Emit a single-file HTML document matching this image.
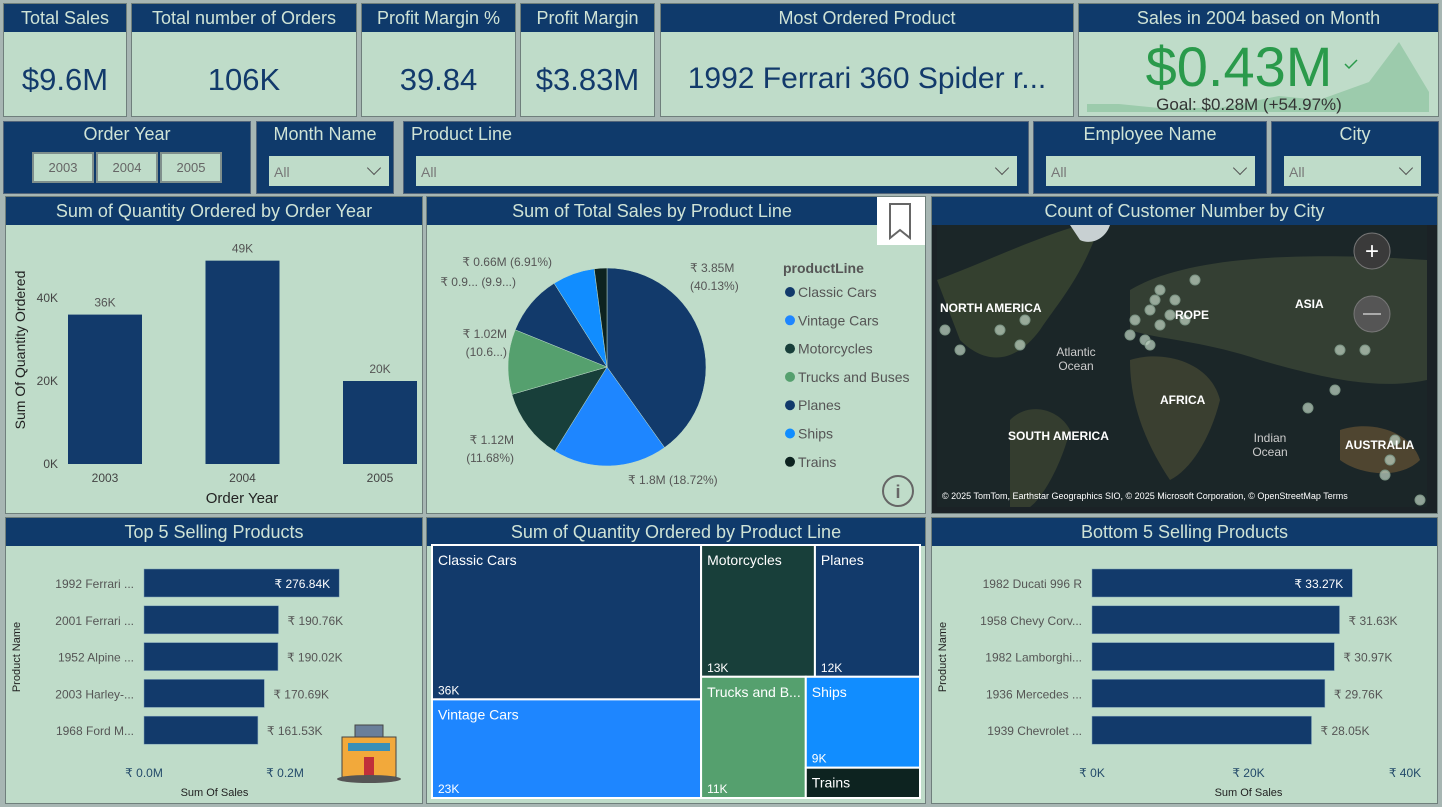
<!DOCTYPE html>
<html><head><meta charset="utf-8">
<style>
*{box-sizing:border-box;margin:0;padding:0}
body{width:1442px;height:807px;background:#a7b6b3;position:relative;overflow:hidden;font-family:"Liberation Sans",sans-serif}
.p{position:absolute;background:#bfdcc9;border:1px solid #6f7f7c}
.h{position:absolute;left:0;right:0;top:0;background:#0f3a6b;color:#cfe3d6;text-align:center;font-size:18px;line-height:28px;white-space:nowrap;overflow:hidden}
.v{position:absolute;left:0;right:0;text-align:center;color:#123a6b;font-size:31px}
.sl{position:absolute;background:#0f3a6b;border:1px solid #53657a}
.st{color:#cfe3d6;font-size:18px;position:absolute;top:2px}
.dd{position:absolute;background:#bfdcc9;color:#777;font-size:14px;padding:8px 5px;height:30px}
.dd::after{content:"";position:absolute;right:10px;top:7px;width:9px;height:9px;border-right:1px solid #555;border-bottom:1px solid #555;transform:rotate(45deg)}
.yb{position:absolute;top:152px;width:62px;height:31px;background:#bfdcc9;border:2px solid #7f8f8c;color:#666;font-size:13px;text-align:center;line-height:27px}
svg text{font-family:"Liberation Sans",sans-serif}
</style></head><body>
<div class="p" style="left:3px;top:3px;width:124px;height:114px"><div class="h">Total Sales</div><div class="v" style="top:58px">$9.6M</div></div>
<div class="p" style="left:131px;top:3px;width:226px;height:114px"><div class="h">Total number of Orders</div><div class="v" style="top:58px">106K</div></div>
<div class="p" style="left:361px;top:3px;width:155px;height:114px"><div class="h">Profit Margin %</div><div class="v" style="top:58px">39.84</div></div>
<div class="p" style="left:520px;top:3px;width:135px;height:114px"><div class="h">Profit Margin</div><div class="v" style="top:58px">$3.83M</div></div>
<div class="p" style="left:660px;top:3px;width:414px;height:114px"><div class="h">Most Ordered Product</div><div class="v" style="top:58px;font-size:30px">1992 Ferrari 360 Spider r...</div></div>
<div class="p" style="left:1078px;top:3px;width:361px;height:114px;overflow:hidden"><div class="h">Sales in 2004 based on Month</div>
<svg style="position:absolute;left:0;top:0" width="361" height="114"><path d="M8,108 L8,100 L40,100 L80,104 L140,104 L200,92 L240,96 L290,78 L320,38 L350,88 L350,108 Z" fill="#9ccbac"/><text x="160" y="82" font-size="56" fill="#2a9a4b" text-anchor="middle">$0.43M</text><path d="M266,60 l4,4 l8,-8" stroke="#2a9a4b" fill="none" stroke-width="1.5"/><text x="170" y="106" font-size="17" fill="#333" text-anchor="middle">Goal: $0.28M (+54.97%)</text></svg></div>

<div class="sl" style="left:3px;top:121px;width:248px;height:73px"><div class="st" style="left:0;right:0;text-align:center">Order Year</div></div>
<div class="yb" style="left:32px">2003</div>
<div class="yb" style="left:96px">2004</div>
<div class="yb" style="left:160px">2005</div>
<div class="sl" style="left:256px;top:121px;width:138px;height:73px"><div class="st" style="left:0;right:0;text-align:center">Month Name</div><div class="dd" style="left:12px;top:34px;width:120px">All</div></div>
<div class="sl" style="left:403px;top:121px;width:626px;height:73px"><div class="st" style="left:7px">Product Line</div><div class="dd" style="left:12px;top:34px;width:601px">All</div></div>
<div class="sl" style="left:1033px;top:121px;width:234px;height:73px"><div class="st" style="left:0;right:0;text-align:center">Employee Name</div><div class="dd" style="left:12px;top:34px;width:209px">All</div></div>
<div class="sl" style="left:1271px;top:121px;width:168px;height:73px"><div class="st" style="left:0;right:0;text-align:center">City</div><div class="dd" style="left:12px;top:34px;width:137px">All</div></div>

<div class="p" style="left:5px;top:196px;width:418px;height:318px"><div class="h">Sum of Quantity Ordered by Order Year</div></div>
<div class="p" style="left:426px;top:196px;width:500px;height:318px"><div class="h" style="right:48px">Sum of Total Sales by Product Line</div></div>
<div class="p" style="left:931px;top:196px;width:507px;height:318px;background:#1b2226"><div class="h">Count of Customer Number by City</div></div>
<div class="p" style="left:5px;top:517px;width:418px;height:287px"><div class="h">Top 5 Selling Products</div></div>
<div class="p" style="left:426px;top:517px;width:500px;height:287px"><div class="h">Sum of Quantity Ordered by Product Line</div></div>
<div class="p" style="left:931px;top:517px;width:507px;height:287px"><div class="h">Bottom 5 Selling Products</div></div>

<svg id="s" style="position:absolute;left:0;top:0" width="1442" height="807"></svg>
<script>
const years=["2003","2004","2005"];
const yearQty=[36,49,20];
const yearLbl=["36K","49K","20K"];
const yTicks=[0,20,40];
const pieCats=["Classic Cars","Vintage Cars","Motorcycles","Trucks and Buses","Planes","Ships","Trains"];
const pieVals=[40.13,18.72,11.68,10.6,9.9,6.91,2.06];
const pieLbls=["₹ 3.85M|(40.13%)","₹ 1.8M (18.72%)","₹ 1.12M|(11.68%)","₹ 1.02M|(10.6...)","₹ 0.9... (9.9...)","₹ 0.66M (6.91%)",""];
const pieColors=["#123a6b","#1e86ff","#183f3a","#55a06e","#123a6b","#118dff","#0d2320"];
const topNames=["1992 Ferrari ...","2001 Ferrari ...","1952 Alpine ...","2003 Harley-...","1968 Ford M..."];
const topVals=[276.84,190.76,190.02,170.69,161.53];
const botNames=["1982 Ducati 996 R","1958 Chevy Corv...","1982 Lamborghi...","1936 Mercedes ...","1939 Chevrolet ..."];
const botVals=[33.27,31.63,30.97,29.76,28.05];
const tmCats=["Classic Cars","Vintage Cars","Motorcycles","Planes","Trucks and B...","Ships","Trains"];
const tmVals=[36,23,13,12,11,9,3];
const tmLbls=["36K","23K","13K","12K","11K","9K",""];
const tmColors=["#123a6b","#1e86ff","#183f3a","#123a6b","#55a06e","#118dff","#0d2320"];
const cities=[[945,330],[960,350],[1000,330],[1020,345],[1025,320],[1135,320],[1150,310],[1160,325],[1170,315],[1145,340],[1130,335],[1175,300],[1185,320],[1160,290],[1195,280],[1340,350],[1365,350],[1308,408],[1335,390],[1390,460],[1385,475],[1420,500],[1395,440],[1150,345],[1155,300]];
const S=document.getElementById('s');const NS="http://www.w3.org/2000/svg";
function mk(t,a,txt){const e=document.createElementNS(NS,t);for(const k in a)e.setAttribute(k,a[k]);if(txt!==undefined)e.textContent=txt;S.appendChild(e);return e;}
// bar chart
const by=v=>464-v*83/20;const bx=i=>68+i*137.5;
yTicks.forEach(t=>{const e=mk('text',{x:58,y:by(t)+4,'font-size':12,fill:'#444','text-anchor':'end'},t+"K");});
years.forEach((y,i)=>{const r=mk('rect',{x:bx(i),y:by(yearQty[i]),width:74,height:464-by(yearQty[i]),fill:'#123a6b'});
const l=mk('text',{x:bx(i)+37,y:by(yearQty[i])-8,'font-size':12,fill:'#555','text-anchor':'middle'},yearLbl[i]);
const x=mk('text',{x:bx(i)+37,y:482,'font-size':12,fill:'#444','text-anchor':'middle'},y);});
let e=mk('text',{x:242,y:503,'font-size':15,fill:'#222','text-anchor':'middle'},"Order Year");
e=mk('text',{x:25,y:350,'font-size':14,fill:'#222','text-anchor':'middle',transform:'rotate(-90 25 350)'},"Sum Of Quantity Ordered");
// pie
const cx=607,cy=367,R=99;let tot=pieVals.reduce((a,b)=>a+b,0),ang=0;
const lblPos=[[690,272,'start'],[628,484,'start'],[514,444,'end'],[507,338,'end'],[516,286,'end'],[552,266,'end']];
pieVals.forEach((v,i)=>{const a0=ang,a1=ang+v/tot*2*Math.PI;ang=a1;
const p=(a,r)=>[cx+r*Math.sin(a),cy-r*Math.cos(a)];const [x0,y0]=p(a0,R),[x1,y1]=p(a1,R);
const s=mk('path',{d:`M${cx},${cy}L${x0},${y0}A${R},${R} 0 ${a1-a0>Math.PI?1:0} 1 ${x1},${y1}Z`,fill:pieColors[i],stroke:'#bfdcc9','stroke-width':0.5});
if(pieLbls[i]&&lblPos[i]){const lp=lblPos[i];
 pieLbls[i].split('|').forEach((ln,k)=>{const l=mk('text',{x:lp[0],y:lp[1]+k*18,'font-size':12,fill:'#555','text-anchor':lp[2]},ln);});}});
e=mk('text',{x:783,y:273,'font-size':14,'font-weight':'bold',fill:'#555'},"productLine");
pieCats.forEach((c,i)=>{const y=292+i*28.3;const d=mk('circle',{cx:790,cy:y,r:5,fill:pieColors[i]});const t=mk('text',{x:798,y:y+5,'font-size':14,fill:'#555'},c);});
e=mk('rect',{x:877,y:197,width:48,height:48,fill:'#fff'});
mk('path',{d:'M890,204 V238 L900,230 L910,238 V204 Z',fill:'none',stroke:'#666','stroke-width':2});
e=mk('circle',{cx:898,cy:491,r:15,fill:'none',stroke:'#666','stroke-width':2});
mk('text',{x:898,y:498,'font-size':18,fill:'#666','text-anchor':'middle','font-weight':'bold'},"i");
// map
mk('rect',{x:937,y:225,width:490,height:282,fill:'#1b2628'});
mk('path',{d:'M937,280 C990,260 1030,240 1080,225 L1100,225 C1080,280 1060,300 1040,330 C1010,370 980,360 960,340 Z',fill:'#34402f'});
mk('path',{d:'M1010,420 C1030,400 1060,410 1070,430 C1060,470 1040,500 1030,507 L1010,507 Z',fill:'#343d2f'});
mk('path',{d:'M1130,360 C1160,350 1210,360 1220,400 C1210,440 1190,470 1170,480 C1150,450 1130,410 1130,360 Z',fill:'#3a3f30'});
mk('path',{d:'M1130,290 C1180,260 1280,250 1427,260 L1427,380 C1380,390 1330,380 1260,360 C1200,340 1160,340 1130,330 Z',fill:'#343f33'});
mk('path',{d:'M1340,430 C1370,420 1410,430 1420,460 C1400,480 1360,475 1340,460 Z',fill:'#4f4530'});
mk('path',{d:'M1070,225 L1110,225 C1105,240 1090,245 1080,240 Z',fill:'#c8d0d2'});
cities.forEach(c=>{const d=mk('circle',{cx:c[0],cy:c[1],r:5,fill:'#b9cdbd','fill-opacity':0.75,stroke:'#7b9484'});});
[["NORTH AMERICA",940,312],["ROPE",1175,319],["ASIA",1295,308],["AFRICA",1160,404],["SOUTH AMERICA",1008,440],["AUSTRALIA",1345,449]].forEach(l=>{const t=mk('text',{x:l[1],y:l[2],'font-size':12,'font-weight':'bold',fill:'#fff'},l[0]);});
mk('text',{x:1076,y:356,'font-size':12,fill:'#ccc','text-anchor':'middle'},"Atlantic");mk('text',{x:1076,y:370,'font-size':12,fill:'#ccc','text-anchor':'middle'},"Ocean");
mk('text',{x:1270,y:442,'font-size':12,fill:'#ccc','text-anchor':'middle'},"Indian");mk('text',{x:1270,y:456,'font-size':12,fill:'#ccc','text-anchor':'middle'},"Ocean");
mk('text',{x:942,y:499,'font-size':9,fill:'#fff'},"© 2025 TomTom, Earthstar Geographics SIO, © 2025 Microsoft Corporation, © OpenStreetMap  Terms");
e=mk('circle',{cx:1372,cy:251,r:18,fill:'#3a3a3a',stroke:'#777'});
mk('text',{x:1372,y:259,'font-size':24,fill:'#fff','text-anchor':'middle'},"+");
e=mk('circle',{cx:1372,cy:314,r:18,fill:'#555',stroke:'#777'});
mk('rect',{x:1363,y:313,width:18,height:2,fill:'#aaa'});
// hbar charts
function hbar(names,vals,x0,perUnit,ticks,tickLbls,fmt,pre,yAxisX){
 const sx=v=>x0+v*perUnit;
 names.forEach((n,i)=>{const y=569+i*36.8;
  const r=mk('rect',{x:x0,y:y,width:sx(vals[i])-x0,height:28,fill:'#123a6b',stroke:'#7fa0b8','stroke-width':0.5});
  const t=mk('text',{x:x0-10,y:y+19,'font-size':12,fill:'#555','text-anchor':'end'},n);
  const inside=i===0;const l=mk('text',{x:inside?sx(vals[i])-9:sx(vals[i])+9,y:y+19,'font-size':12,fill:inside?'#fff':'#555','text-anchor':inside?'end':'start'},fmt(vals[i]));});
 ticks.forEach((t,i)=>{const l=mk('text',{x:sx(t),y:777,'font-size':12,fill:'#234a6a','text-anchor':'middle'},tickLbls[i]);});
 const xt=mk('text',{x:(sx(ticks[0])+sx(ticks[ticks.length-1]))/2,y:796,'font-size':11,fill:'#222','text-anchor':'middle'},"Sum Of Sales");
 const yt=mk('text',{x:yAxisX,y:657,'font-size':11,fill:'#222','text-anchor':'middle',transform:`rotate(-90 ${yAxisX} 657)`},"Product Name");
}
hbar(topNames,topVals,144,141/200,[0,200],["₹ 0.0M","₹ 0.2M"],v=>"₹ "+v.toFixed(2)+"K","top",20);
hbar(botNames,botVals,1092,156.5/20,[0,20,40],["₹ 0K","₹ 20K","₹ 40K"],v=>"₹ "+v.toFixed(2)+"K","bottom",946);
// building icon
mk('rect',{x:342,y:737,width:54,height:40,fill:'#f2a93b',stroke:'#444'});mk('rect',{x:355,y:725,width:28,height:12,fill:'#6a7f9a',stroke:'#444'});
mk('rect',{x:348,y:743,width:42,height:8,fill:'#3a8fb8'});
mk('rect',{x:364,y:757,width:10,height:20,fill:'#c0303a'});mk('ellipse',{cx:369,cy:779,rx:32,ry:4,fill:'#555'});
// treemap
const TX=432,TY=545,TW=488,TH=253;const T=tmVals.reduce((a,b)=>a+b,0);
const leftW=TW*(tmVals[0]+tmVals[1])/T;const rW=TW-leftW;const rT=T-tmVals[0]-tmVals[1];
const topH=TH*(tmVals[2]+tmVals[3])/rT;const bH=TH-topH;
const mW=rW*tmVals[2]/(tmVals[2]+tmVals[3]);const tW=rW*tmVals[4]/(tmVals[4]+tmVals[5]+tmVals[6]);
const sH=bH*tmVals[5]/(tmVals[5]+tmVals[6]);
const cH=TH*tmVals[0]/(tmVals[0]+tmVals[1]);
const rects=[[TX,TY,leftW,cH],[TX,TY+cH,leftW,TH-cH],
[TX+leftW,TY,mW,topH],[TX+leftW+mW,TY,rW-mW,topH],[TX+leftW,TY+topH,tW,bH],[TX+leftW+tW,TY+topH,rW-tW,sH],[TX+leftW+tW,TY+topH+sH,rW-tW,bH-sH]];
rects.forEach((r,i)=>{const e=mk('rect',{x:r[0],y:r[1],width:r[2],height:r[3],fill:tmColors[i],stroke:'#fff','stroke-width':2});
 const t=mk('text',{x:r[0]+6,y:r[1]+20,'font-size':14,fill:'#fff'},tmCats[i]);
 if(tmLbls[i]){const v=mk('text',{x:r[0]+6,y:r[1]+r[3]-5,'font-size':12,fill:'#fff'},tmLbls[i]);}});
</script>
</body></html>
